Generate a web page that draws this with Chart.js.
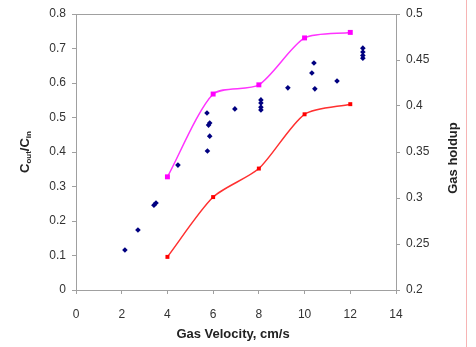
<!DOCTYPE html>
<html>
<head>
<meta charset="utf-8">
<script src="https://cdn.jsdelivr.net/npm/chart.js@4/dist/chart.umd.min.js"></script>
<style>
html, body { margin: 0; padding: 0; background: #fff; }
#wrap { position: relative; width: 476px; height: 347px; }
#edge { position: absolute; left: 466px; top: 0; width: 1px; height: 347px; background: #f7b4b4; }
</style>
</head>
<body>
<div id="wrap">
<canvas id="chart" width="476" height="347"></canvas>
<div id="edge"></div>
</div>
<script>
// gas velocity (cm/s) where holdup was measured
const velocity = [4, 6, 8, 10, 12];
const holdupUpper = [0.323, 0.413, 0.423, 0.474, 0.480];
const holdupLower = [0.236, 0.301, 0.332, 0.391, 0.402];

// concentration ratio points
const ratioX = [2.14, 2.71, 3.41, 3.5, 4.46, 5.73, 5.8, 5.85, 5.85, 5.75, 6.95, 8.09, 8.09, 8.09, 8.09, 9.27, 10.41, 10.32, 10.45, 11.42, 12.55, 12.55, 12.55, 12.55];
const ratioY = [0.116, 0.174, 0.246, 0.252, 0.362, 0.513, 0.478, 0.484, 0.446, 0.403, 0.525, 0.551, 0.542, 0.530, 0.522, 0.586, 0.658, 0.629, 0.583, 0.606, 0.701, 0.690, 0.680, 0.672];

const xTicks = [0, 2, 4, 6, 8, 10, 12, 14];

const pts = (xs, ys) => xs.map((x, i) => ({ x: x, y: ys[i] }));
const axisColor = '#a0a0a0';
const tickFont = { family: 'Liberation Sans', size: 12 };

const extras = {
  id: 'extras',
  afterDraw(c) {
    const g = c.ctx, a = c.chartArea;
    g.save();
    g.strokeStyle = axisColor;
    g.lineWidth = 1;
    g.beginPath();
    g.moveTo(a.left, a.top + 0.5);
    g.lineTo(a.right, a.top + 0.5);
    g.stroke();

    g.fillStyle = '#222';
    g.textAlign = 'center';
    g.textBaseline = 'middle';
    g.font = 'bold 13px Liberation Sans';
    g.fillText('Gas Velocity, cm/s', (a.left + a.right) / 2 - 3, 334);

    g.save();
    g.translate(453, 158);
    g.rotate(-Math.PI / 2);
    g.fillText('Gas holdup', 0, 0);
    g.restore();

    // left title with subscripts
    g.save();
    g.translate(25, 152);
    g.rotate(-Math.PI / 2);
    const parts = [['C', 13, 0], ['out', 8, 4], ['/C', 13, 0], ['in', 8, 4]];
    let w = 0;
    parts.forEach(p => { g.font = 'bold ' + p[1] + 'px Liberation Sans'; w += g.measureText(p[0]).width; });
    let x = -w / 2;
    g.textAlign = 'left';
    parts.forEach(p => {
      g.font = 'bold ' + p[1] + 'px Liberation Sans';
      g.fillText(p[0], x, p[2]);
      x += g.measureText(p[0]).width;
    });
    g.restore();
    g.restore();
  }
};

new Chart(document.getElementById('chart'), {
  type: 'scatter',
  data: {
    datasets: [
      {
        label: 'upper', data: pts(velocity, holdupUpper), yAxisID: 'y2', showLine: true,
        borderColor: '#ff33ff', backgroundColor: '#ff00ff', borderWidth: 1.5, tension: 0.25,
        pointStyle: 'rect', pointRadius: 3.5, pointBorderWidth: 0
      },
      {
        label: 'lower', data: pts(velocity, holdupLower), yAxisID: 'y2', showLine: true,
        borderColor: '#ff3030', backgroundColor: '#ff0000', borderWidth: 1.5, tension: 0.25,
        pointStyle: 'rect', pointRadius: 2.8, pointBorderWidth: 0
      },
      {
        label: 'ratio', data: pts(ratioX, ratioY), yAxisID: 'y',
        backgroundColor: '#000080', borderColor: '#000080',
        pointStyle: 'rectRot', pointRadius: 2.8, pointBorderWidth: 0
      }
    ]
  },
  options: {
    responsive: false,
    animation: false,
    layout: { padding: { top: 14, left: 0, right: 0, bottom: 0 } },
    plugins: { legend: { display: false }, tooltip: { enabled: false } },
    scales: {
      x: {
        type: 'linear', min: 0, max: 14,
        afterBuildTicks: s => { s.ticks = xTicks.map(v => ({ value: v })); },
        afterFit: s => { s.height = 57; },
        grid: { drawOnChartArea: false, tickLength: 4, color: axisColor },
        border: { color: axisColor },
        ticks: { font: tickFont, color: '#333', padding: 13, maxRotation: 0 }
      },
      y: {
        position: 'left', min: 0, max: 0.8,
        afterFit: s => { s.width = 76; },
        grid: { drawOnChartArea: false, tickLength: 4, color: axisColor },
        border: { color: axisColor },
        ticks: { stepSize: 0.1, font: tickFont, color: '#333', padding: 6, callback: v => String(+v.toFixed(2)) }
      },
      y2: {
        position: 'right', min: 0.2, max: 0.5,
        afterFit: s => { s.width = 80; },
        grid: { drawOnChartArea: false, tickLength: 4, color: axisColor },
        border: { color: axisColor },
        ticks: { stepSize: 0.05, font: tickFont, color: '#333', padding: 6, callback: v => String(+v.toFixed(2)) }
      }
    }
  },
  plugins: [extras]
});
</script>
</body>
</html>
